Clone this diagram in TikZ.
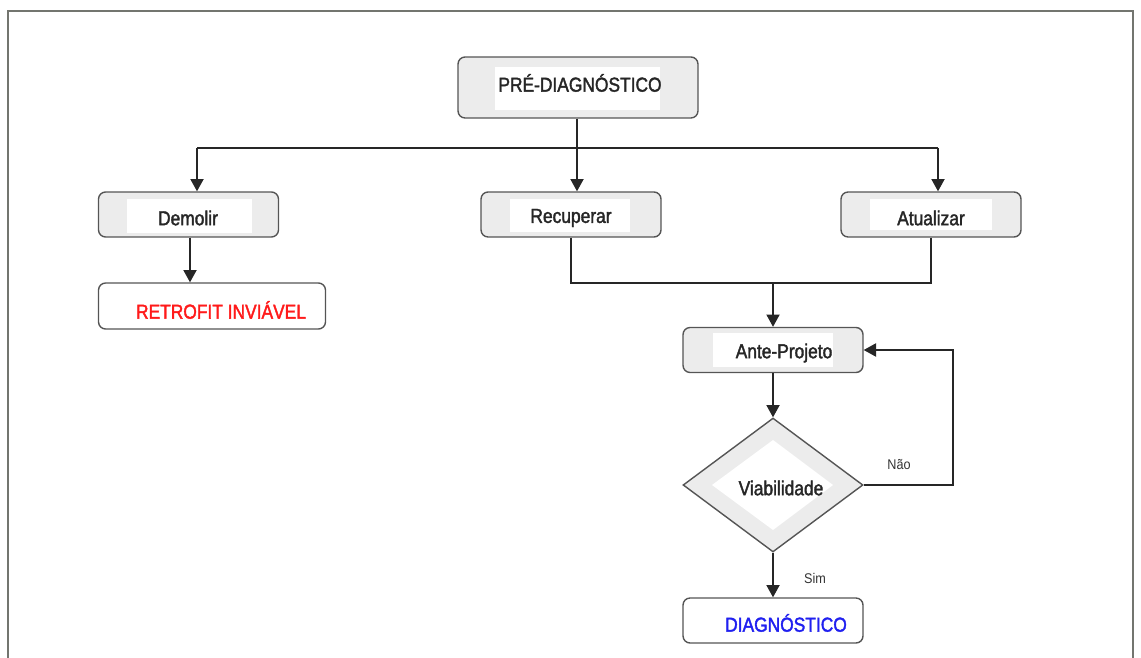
\documentclass[tikz,border=0pt]{standalone}
\usepackage{fontspec}
\setmainfont{Liberation Sans}
\newfontfamily\boxfont[FakeStretch=0.86,FakeBold=1.8]{Liberation Sans}
\newfontfamily\notefont[FakeStretch=0.9]{Liberation Sans}
\usepackage{xcolor}
\usetikzlibrary{arrows.meta,positioning,calc,shapes.geometric}
\definecolor{boxgray}{HTML}{ECECEC}
\definecolor{edgegray}{HTML}{555555}
\definecolor{framegray}{HTML}{73756F}
\definecolor{retroRed}{HTML}{FF1A1A}
\definecolor{diagBlue}{HTML}{2020F0}
\tikzset{>={Triangle[length=7pt,width=7.5pt]}}
\tikzset{
  graybox/.style={draw=edgegray,line width=0.8pt,rounded corners=4pt,fill=boxgray,minimum width=3.6cm,minimum height=0.9cm},
  whitebox/.style={draw=edgegray,line width=0.8pt,rounded corners=4pt,fill=white,minimum width=3.6cm,minimum height=0.9cm},
  inner/.style={fill=white,inner sep=0pt},
  lbl/.style={font=\boxfont\fontsize{11.5}{13}\selectfont,inner sep=0pt,text=black!85},
  small/.style={font=\notefont\fontsize{8}{9}\selectfont,inner sep=0pt,text=black!80},
  line/.style={draw=black!85,line width=0.8pt}
}

\begin{document}
\begin{tikzpicture}[x=0.02cm,y=-0.02cm]
\useasboundingbox (0,0) rectangle (1141,658);
% frame
\draw[framegray,line width=1.3pt] (8,658) -- (8,11) -- (1133,11) -- (1133,658);

% boxes
\node[graybox,minimum width=4.8cm,minimum height=1.22cm] (pre) at (578,87.5) {};
\node[inner,minimum width=3.3cm,minimum height=0.86cm] (preIn) at (577.5,88.5) {};
\node[lbl] (preTxt) at (580,83) {PRÉ-DIAGNÓSTICO};

\node[graybox] (demolir) at (188.5,214.5) {};
\node[inner,minimum width=2.5cm,minimum height=0.68cm] (demolirIn) at (189.5,216) {};
\node[lbl] (demolirTxt) at (188,218) {Demolir};

\node[graybox] (recuperar) at (571,214.5) {};
\node[inner,minimum width=2.4cm,minimum height=0.66cm] (recuperarIn) at (570,215.5) {};
\node[lbl] (recuperarTxt) at (571,218) {Recuperar};

\node[graybox] (atualizar) at (931,214.5) {};
\node[inner,minimum width=2.44cm,minimum height=0.62cm] (atualizarIn) at (931,214.5) {};
\node[lbl] (atualizarTxt) at (931,218) {Atualizar};

\node[whitebox,minimum width=4.54cm,minimum height=0.92cm] (retrofit) at (212,306) {};
\node[lbl,text=retroRed] (retrofitTxt) at (221,310) {RETROFIT INVIÁVEL};

\node[graybox] (ante) at (773,350) {};
\node[inner,minimum width=2.4cm,minimum height=0.68cm] (anteIn) at (773,350) {};
\node[lbl] (anteTxt) at (784,353) {Ante-Projeto};

\node[draw=edgegray,line width=0.8pt,fill=boxgray,diamond,minimum width=3.6cm,minimum height=2.68cm,inner sep=0pt] (viab) at (773,485) {};
\fill[white] (712,485) -- (773,440) -- (833,485) -- (773,530) -- cycle;
\node[lbl] (viabTxt) at (781,488) {Viabilidade};

\node[whitebox] (diag) at (773,620.5) {};
\node[lbl,text=diagBlue] (diagTxt) at (786,623) {DIAGNÓSTICO};

% connectors
\coordinate (busTop) at (577,148);
\coordinate (busL) at (197,148);
\coordinate (busR) at (938,148);
\coordinate (busBot) at (773,283);
\draw[line] (pre.south -| busTop) -- (busTop);
\draw[line] (busL) -- (busR);
\draw[line,->] (busL) -- (busL |- demolir.north);
\draw[line,->] (busTop) -- (busTop |- recuperar.north);
\draw[line,->] (busR) -- (busR |- atualizar.north);
\draw[line,->] ([xshift=0.03cm]demolir.south) -- ([xshift=0.03cm]demolir.south |- retrofit.north);

\draw[line] (recuperar.south) |- (busBot);
\draw[line] (atualizar.south) |- (busBot);
\draw[line,->] (busBot) -- (ante.north);
\draw[line,->] (ante.south) -- (viab.north);
\draw[line,->] (viab.east) -- (953,485) |- (ante.east);
\draw[line,->] (viab.south) -- (diag.north);

\node[small] (nao) at (899,465) {Não};
\node[small] (sim) at (815,578) {Sim};
\end{tikzpicture}
\end{document}
